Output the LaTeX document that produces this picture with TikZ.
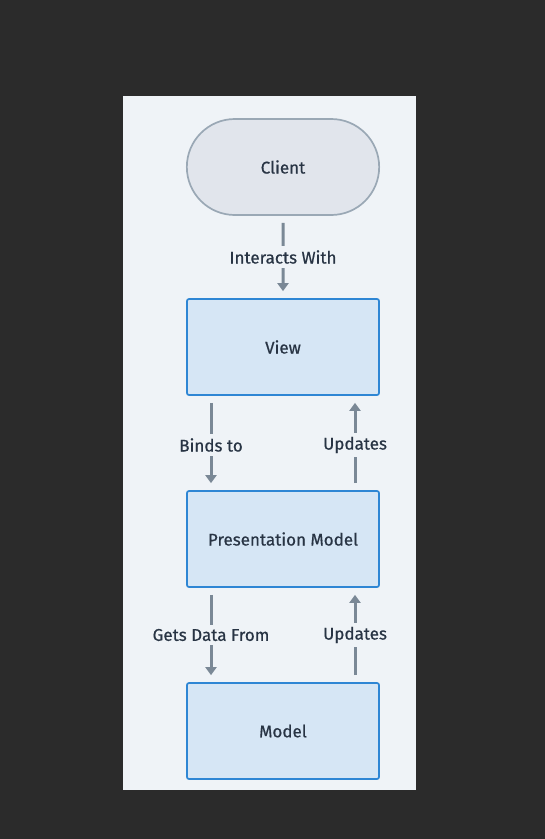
\documentclass[tikz,border=0pt]{standalone}
\usepackage{fontspec}
\setmainfont{Fira Sans}[FakeBold=0.6,UprightFeatures={FakeBold=0.6}]
\usetikzlibrary{arrows.meta,shapes.misc}
\definecolor{FondoOscuro}{RGB}{43,43,43}
\definecolor{Panel}{RGB}{239,243,247}
\definecolor{GrisCliente}{RGB}{225,229,236}
\definecolor{BordeCliente}{RGB}{154,168,181}
\definecolor{AzulCaja}{RGB}{214,230,245}
\definecolor{BordeAzul}{RGB}{46,134,212}
\definecolor{GrisFlecha}{RGB}{122,136,150}
\definecolor{Texto}{RGB}{40,52,68}

\tikzset{
  caja/.style={draw=BordeAzul,fill=AzulCaja,line width=1.7pt,rounded corners=2pt,
    minimum width=192pt,minimum height=96pt,text=Texto,font=\fontsize{17}{19}\selectfont},
  cliente/.style={draw=BordeCliente,fill=GrisCliente,line width=1.7pt,rounded rectangle,
    minimum width=199pt,minimum height=96pt,text=Texto,font=\fontsize{17}{19}\selectfont},
  flujo/.style={-{Triangle[length=8pt,width=11pt]},GrisFlecha,line width=3pt,
    shorten <=7pt,shorten >=7pt},
  etiqueta/.style={fill=Panel,text=Texto,inner sep=4pt,font=\fontsize{17}{19}\selectfont}
}

\begin{document}
\begin{tikzpicture}[x=1pt,y=-1pt]
  \fill[FondoOscuro] (0,0) rectangle (545,839);
  \useasboundingbox (0,0) rectangle (545,839);
  \fill[Panel] (123,96) rectangle (416,790);

  \node[cliente] (client) at (283,167) {Client};
  \node[caja] (view) at (283,347) {View};
  \node[caja] (pm) at (283,539) {Presentation Model};
  \node[caja] (model) at (283,731) {Model};

  % client -> view
  \draw[flujo] (client) -- node[etiqueta] {Interacts With} (view);
  % view <-> presentation model
  \draw[flujo] ([xshift=-72pt]view.south) -- node[etiqueta,yshift=-2pt] {Binds to}
       ([xshift=-72pt]pm.north);
  \draw[flujo] ([xshift=72pt]pm.north) -- node[etiqueta,yshift=-2pt] {Updates}
       ([xshift=72pt]view.south);
  % presentation model <-> model
  \draw[flujo] ([xshift=-72pt]pm.south) -- node[etiqueta] {Gets Data From}
       ([xshift=-72pt]model.north);
  \draw[flujo] ([xshift=72pt]model.north) -- node[etiqueta] {Updates}
       ([xshift=72pt]pm.south);
\end{tikzpicture}
\end{document}
